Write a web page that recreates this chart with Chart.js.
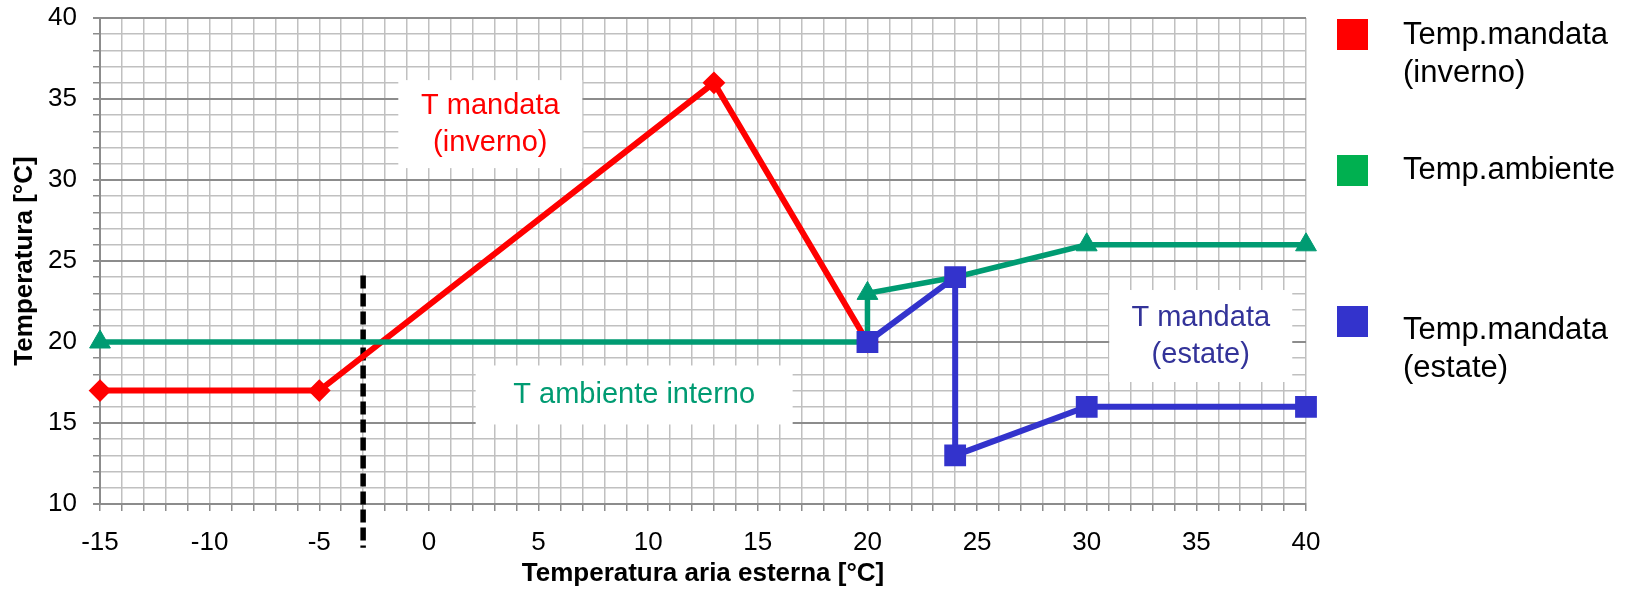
<!DOCTYPE html>
<html lang="it">
<head>
<meta charset="utf-8">
<script src="https://cdn.jsdelivr.net/npm/chart.js@4/dist/chart.umd.min.js"></script>
<style>
  html, body { margin: 0; padding: 0; background: #fff; }
  #wrap { width: 1631px; height: 591px; }
</style>
</head>
<body>
<div id="wrap"><canvas id="temp-chart" width="1631" height="591"></canvas></div>
<script>
/* global Chart */
const FONT = '"Liberation Sans", Arial, sans-serif';

// temperatura aria esterna [°C] / temperatura [°C]
const invernoX = [-15, -5, 13, 20];
const invernoY = [17, 17, 36, 20];
const ambienteX = [-15, 20, 20, 24, 30, 40];
const ambienteY = [20, 20, 23, 24, 26, 26];
const estateX = [20, 24, 24, 30, 40];
const estateY = [20, 24, 13, 16, 16];
const progettoX = [-3, -3];
const progettoY = [24.1, 7.3];

const seriesNames = ['Temp.mandata\n(inverno)', 'Temp.ambiente', 'Temp.mandata\n(estate)'];
const legendColors = ['#FF0000', '#00B050', '#3333CC'];

const notes = [
    { text: ['T mandata', '(inverno)'], x: 2.8, y: 33.45, w: 184, h: 88, color: '#FF0000' },
    { text: ['T ambiente interno'], x: 9.36, y: 16.73, w: 317, h: 59, color: '#009B72' },
    { text: ['T mandata', '(estate)'], x: 35.2, y: 20.37, w: 183, h: 92, color: '#333399' }
];

function toPoints(xs, ys) {
    return xs.map((x, i) => ({ x: x, y: ys[i] }));
}

function noEdgePadding(s) {
    s.paddingTop = 0;
    s.paddingBottom = 0;
    s.paddingLeft = 0;
    s.paddingRight = 0;
}

const notesPlugin = {
    id: 'notes',
    beforeDatasetsDraw(chart) {
        const ctx = chart.ctx;
        const sx = chart.scales.x;
        const sy = chart.scales.y;
        ctx.save();
        ctx.font = '29px ' + FONT;
        ctx.textAlign = 'center';
        ctx.textBaseline = 'middle';
        notes.forEach(n => {
            const cx = sx.getPixelForValue(n.x);
            const cy = sy.getPixelForValue(n.y);
            ctx.fillStyle = '#fff';
            ctx.fillRect(cx - n.w / 2, cy - n.h / 2, n.w, n.h);
            ctx.fillStyle = n.color;
            const step = 37;
            const y0 = cy - (n.text.length - 1) * step / 2;
            n.text.forEach((t, i) => ctx.fillText(t, cx, y0 + i * step));
        });
        ctx.restore();
    }
};

const legendPlugin = {
    id: 'sideLegend',
    afterDraw(chart) {
        const ctx = chart.ctx;
        const boxTops = [19, 155, 306];
        const textTops = [35, 170, 330];
        ctx.save();
        ctx.font = '31px ' + FONT;
        ctx.textAlign = 'left';
        ctx.textBaseline = 'middle';
        seriesNames.forEach((name, i) => {
            ctx.fillStyle = legendColors[i];
            ctx.fillRect(1337, boxTops[i], 31, 31);
            ctx.fillStyle = '#000';
            name.split('\n').forEach((line, j) => {
                ctx.fillText(line, 1403, textTops[i] + j * 38);
            });
        });
        ctx.restore();
    }
};

const ctx = document.getElementById('temp-chart').getContext('2d');

new Chart(ctx, {
    type: 'scatter',
    data: {
        datasets: [
            {
                label: 'Temp.mandata (estate)',
                data: toPoints(estateX, estateY),
                showLine: true,
                borderColor: '#3333CC',
                backgroundColor: '#3333CC',
                borderWidth: 6,
                pointStyle: 'rect',
                pointRadius: 14,
                pointBorderWidth: 2,
                clip: false,
                order: 0
            },
            {
                label: 'Temp.ambiente',
                data: toPoints(ambienteX, ambienteY),
                showLine: true,
                borderColor: '#009B72',
                backgroundColor: '#009B72',
                borderWidth: 5.5,
                pointStyle: 'triangle',
                pointRadius: [12, 0, 12, 0, 12, 12],
                pointBorderWidth: 1,
                clip: false,
                order: 1
            },
            {
                label: 'Temp.mandata (inverno)',
                data: toPoints(invernoX, invernoY),
                showLine: true,
                borderColor: '#FF0000',
                backgroundColor: '#FF0000',
                borderWidth: 6,
                pointStyle: 'rectRot',
                pointRadius: 10,
                pointBorderWidth: 2,
                clip: false,
                order: 2
            },
            {
                label: 'progetto',
                data: toPoints(progettoX, progettoY),
                showLine: true,
                borderColor: '#000',
                borderWidth: 5.5,
                borderDash: [13, 5],
                pointRadius: 0,
                clip: false,
                order: 3
            }
        ]
    },
    options: {
        responsive: false,
        animation: false,
        layout: { padding: { left: 0, top: 18, right: 325, bottom: 0 } },
        plugins: {
            legend: { display: false },
            tooltip: { enabled: false }
        },
        scales: {
            x: {
                type: 'linear',
                min: -15,
                max: 40,
                afterFit: s => { s.height = 87; noEdgePadding(s); },
                grid: { color: '#C0C0C0', lineWidth: 1.5, tickColor: '#8C8C8C', tickLength: 7 },
                border: { color: '#8C8C8C', width: 2 },
                ticks: {
                    stepSize: 1,
                    autoSkip: false,
                    maxRotation: 0,
                    padding: 16,
                    color: '#000',
                    font: { family: FONT, size: 26 },
                    callback: v => (v % 5 === 0 ? String(v) : '')
                },
                title: {
                    display: true,
                    text: 'Temperatura aria esterna [°C]',
                    color: '#000',
                    font: { family: FONT, size: 26, weight: 'bold' },
                    padding: { top: 0, bottom: 2 }
                }
            },
            y: {
                type: 'linear',
                min: 10,
                max: 40,
                afterFit: s => { s.width = 100; noEdgePadding(s); },
                grid: {
                    color: c => (c.tick && c.tick.value % 5 === 0 ? '#8C8C8C' : '#C0C0C0'),
                    lineWidth: c => (c.tick && c.tick.value % 5 === 0 ? 2 : 1.5),
                    tickColor: '#8C8C8C',
                    tickLength: 7
                },
                border: { color: '#8C8C8C', width: 2 },
                ticks: {
                    stepSize: 1,
                    autoSkip: false,
                    padding: 16,
                    color: '#000',
                    font: { family: FONT, size: 26 },
                    callback: v => (v % 5 === 0 ? String(v) : '')
                },
                title: {
                    display: true,
                    text: 'Temperatura [°C]',
                    color: '#000',
                    font: { family: FONT, size: 26, weight: 'bold' },
                    padding: { top: 9, bottom: 0 }
                }
            }
        }
    },
    plugins: [notesPlugin, legendPlugin]
});
</script>
</body>
</html>
